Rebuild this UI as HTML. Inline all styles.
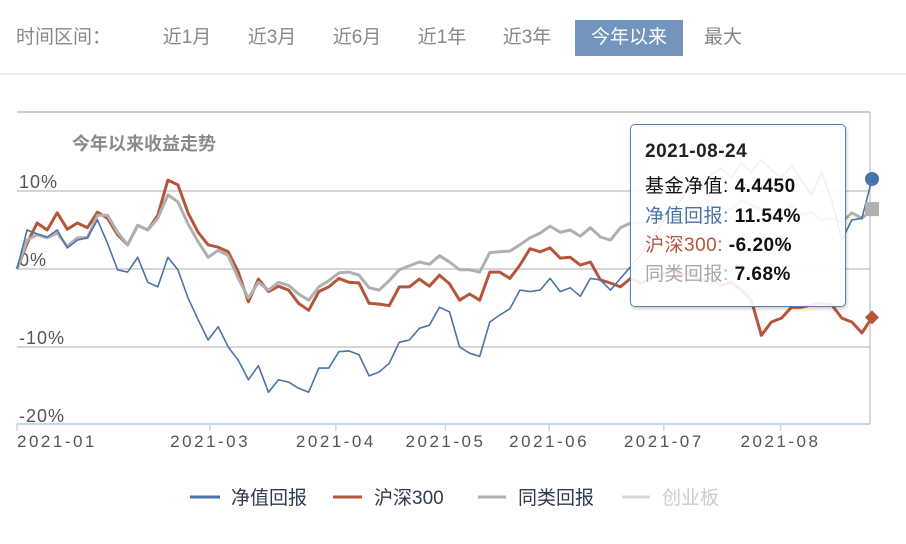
<!DOCTYPE html>
<html><head><meta charset="utf-8">
<style>
body{margin:0;width:906px;height:544px;background:#fff;overflow:hidden;font-family:"Liberation Sans","Noto Sans CJK SC",sans-serif;position:relative}
.hdr{position:absolute;top:24px;font-size:19px;color:#888;line-height:28px}
.btn{position:absolute;top:20px;height:36px;line-height:36px;font-size:19px;color:#888;text-align:center}
.sel{background:#7394bd;color:#fff;left:575px;width:108px}
.sep{position:absolute;left:0;top:73px;width:906px;height:2px;background:#e8edf2}
.tip{position:absolute;left:630px;top:124px;width:214px;height:181px;border:1.5px solid #5a7fb0;border-radius:5px;background:rgba(255,255,255,0.9);box-shadow:1px 2px 3px rgba(0,0,0,0.2);font-size:19px;letter-spacing:0.5px}
.tip div{position:absolute;left:14px;white-space:nowrap}
.tip b{color:#111}
</style></head><body>
<div class="hdr" style="left:16px">时间区间：</div>
<div class="btn" style="left:156px;width:62px">近1月</div>
<div class="btn" style="left:241px;width:62px">近3月</div>
<div class="btn" style="left:326px;width:62px">近6月</div>
<div class="btn" style="left:411px;width:62px">近1年</div>
<div class="btn" style="left:496px;width:62px">近3年</div>
<div class="btn sel">今年以来</div>
<div class="btn" style="left:698px;width:50px">最大</div>
<div class="sep"></div>

<svg id="chart" width="906" height="544" style="position:absolute;left:0;top:0">
<line x1="17" y1="112" x2="870" y2="112" stroke="#ccc" stroke-width="2"/>
<line x1="870" y1="112" x2="870" y2="424" stroke="#ccc" stroke-width="1.5"/>
<text x="72" y="150" font-size="18" font-weight="bold" fill="#8a8a8a">今年以来收益走势</text>
<g id="grid"></g><g id="axes"></g><g id="series"></g>
</svg>

<div class="tip">
<div style="top:16px;font-weight:bold;color:#222">2021-08-24</div>
<div style="top:46px;color:#111">基金净值: <b>4.4450</b></div>
<div style="top:76px;color:#4a73a8">净值回报: <b>11.54%</b></div>
<div style="top:105px;color:#b5563a">沪深300: <b>-6.20%</b></div>
<div style="top:134px;color:#aaa">同类回报: <b>7.68%</b></div>
</div>

<svg width="906" height="544" style="position:absolute;left:0;top:0">
<g font-size="19" fill="#2d3b4e">
<line x1="190" y1="497" x2="220" y2="497" stroke="#4a73a8" stroke-width="3"/>
<text x="231" y="504">净值回报</text>
<line x1="333" y1="497" x2="362" y2="497" stroke="#b5563a" stroke-width="3"/>
<text x="374" y="504">沪深300</text>
<line x1="478" y1="497" x2="506" y2="497" stroke="#b0b0b0" stroke-width="3"/>
<text x="518" y="504">同类回报</text>
<line x1="622" y1="497" x2="650" y2="497" stroke="#d8d8d8" stroke-width="3"/>
<text x="662" y="504" fill="#ccc">创业板</text>
</g></svg>

<script>
const fund=[0,5.0,4.5,4.1,5.0,2.7,3.7,4.0,6.3,3.3,-0.1,-0.4,1.5,-1.7,-2.3,1.5,-0.1,-3.7,-6.5,-9.1,-7.4,-10,-11.7,-14.2,-12.4,-15.8,-14.2,-14.5,-15.3,-15.8,-12.7,-12.7,-10.6,-10.5,-11.0,-13.7,-13.2,-12.1,-9.4,-9.1,-7.6,-7.2,-4.9,-5.5,-10,-10.8,-11.2,-6.8,-5.9,-5.1,-2.7,-2.9,-2.7,-1.2,-2.9,-2.4,-3.5,-1.2,-1.4,-2.7,-1.2,0.3,1.8,3.7,5.6,7.8,8.8,10.8,10.1,12.1,12.9,11.7,13.6,12.4,14.0,12.7,11.7,13.3,11.4,9.5,12.4,8.8,3.7,6.3,6.5,11.54];
const hs300=[0,3.3,5.9,5.0,7.2,5.1,5.9,5.3,7.3,6.5,4.4,3.1,5.6,5.0,6.9,11.4,10.8,7.2,4.7,3.1,2.8,2.2,-0.4,-4.2,-1.3,-2.9,-2.2,-2.7,-4.4,-5.3,-2.9,-2.3,-1.2,-1.7,-1.8,-4.4,-4.5,-4.7,-2.3,-2.3,-1.3,-2.2,-0.8,-1.9,-4.0,-3.2,-4.0,-0.4,-0.4,-1.2,0.5,2.6,2.2,2.7,1.4,1.5,0.5,0.9,-1.4,-1.8,-2.3,-1.2,-1.8,-1.2,-0.9,-0.1,-0.8,-0.4,-1.4,-1.2,-2.1,-1.7,-2.7,-4.0,-8.5,-6.8,-6.3,-4.9,-4.9,-4.6,-4.4,-4.6,-6.3,-6.8,-8.2,-6.2];
const peer=[0,3.7,4.4,4.0,4.6,2.9,4.0,4.0,6.9,6.9,4.7,3.1,5.6,5.0,6.5,9.5,8.6,5.8,3.5,1.5,2.4,1.7,-1.2,-3.7,-1.7,-2.7,-1.7,-2.1,-3.2,-4.0,-2.3,-1.5,-0.5,-0.4,-0.8,-2.4,-2.7,-1.5,-0.1,0.4,0.9,0.6,1.7,0.9,-0.1,-0.1,-0.4,2.1,2.2,2.3,3.1,4.0,4.6,5.5,4.7,5.0,4.2,5.3,4.1,3.7,5.3,5.9,6.0,6.3,6.5,7.3,6.9,7.6,7.2,8.2,7.7,7.6,8.8,8.2,7.6,6.9,7.3,8.2,6.9,7.3,6.3,6.5,6.0,7.2,6.5,7.68];
const yTicks=[10,0,-10,-20];
const yTickLabels=["10%","0%","-10%","-20%"];
const xTickIdx=[0,19.2,31.7,42.6,52.9,64.3,75.9];
const xTickLabels=["2021-01","2021-03","2021-04","2021-05","2021-06","2021-07","2021-08"];

const NS="http://www.w3.org/2000/svg";
const N=fund.length;
const X=i=>17+i*(855/(N-1));
const Y=v=>269-v*7.8;
function mk(t,a,p){const e=document.createElementNS(NS,t);for(const k in a)e.setAttribute(k,a[k]);p.appendChild(e);return e;}
const grid=document.getElementById('grid'),axes=document.getElementById('axes'),ser=document.getElementById('series');
yTicks.forEach((v,i)=>{
  if(v>-20){const l=mk('line',{x1:17,x2:870,y1:Y(v),y2:Y(v),stroke:'#c8c8c8','stroke-width':1.5},grid);
  
  }
  const t=mk('text',{x:19,y:Y(v)-3,'font-size':18,fill:'#555','letter-spacing':1},grid);t.textContent=yTickLabels[i];
  
  
});
const ax=mk('line',{x1:17,x2:870,y1:424,y2:424,stroke:'#c9d5e4','stroke-width':2},axes);


xTickIdx.forEach((ix,i)=>{
  const x=X(ix);
  const tk=mk('line',{x1:x,x2:x,y1:424,y2:431,stroke:'#c9d5e4','stroke-width':1.5},axes);
  
  
  const t=mk('text',{x:i==0?17:x,y:447,'font-size':17,'letter-spacing':2.5,fill:'#555','text-anchor':i==0?'start':'middle'},axes);
  t.textContent=xTickLabels[i];
  
  
});
function line(arr,color,w,name){
  const d=arr.map((v,i)=>(i?'L':'M')+X(i).toFixed(1)+','+Y(v).toFixed(1)).join('');
  const p=mk('path',{d:d,fill:'none',stroke:color,'stroke-width':w,'stroke-linejoin':'round'},ser);
  
  
}
line(hs300,'#b5563a',3,'hs300-line');
line(peer,'#b0b0b0',3,'peer-line');
line(fund,'#4a73a8',1.6,'fund-line');
const L=N-1;
const c=mk('circle',{cx:X(L),cy:Y(fund[L]),r:7,fill:'#4a73a8'},ser);


const s=mk('rect',{x:X(L)-7,y:Y(peer[L])-7,width:14,height:14,fill:'#b0b0b0'},ser);


const dx=X(L),dy=Y(hs300[L]);
const dm=mk('polygon',{points:`${dx},${dy-7} ${dx+7},${dy} ${dx},${dy+7} ${dx-7},${dy}`,fill:'#b5563a'},ser);


</script>
</body></html>
